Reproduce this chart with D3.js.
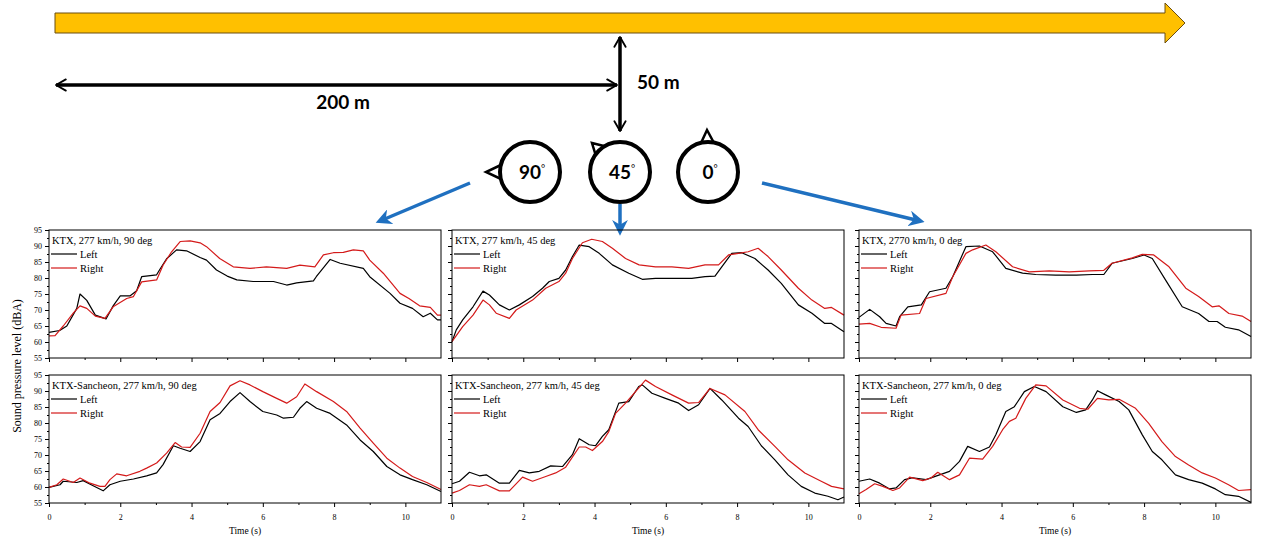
<!DOCTYPE html>
<html>
<head>
<meta charset="utf-8">
<script src="https://cdn.jsdelivr.net/npm/d3@7"></script>
<style>
  body { margin: 0; background: #fff; }
  svg { display: block; }
</style>
</head>
<body>
<svg id="chart" width="1278" height="538"></svg>
<script>
// Panel titles, in reading order (row by row)
const panelTitles = [
    'KTX, 277 km/h, 90 deg', 'KTX, 277 km/h, 45 deg', 'KTX, 2770 km/h, 0 deg',
    'KTX-Sancheon, 277 km/h, 90 deg', 'KTX-Sancheon, 277 km/h, 45 deg', 'KTX-Sancheon, 277 km/h, 0 deg'
];
const seriesNames = ['Left', 'Right'];
const yTicks = [55, 60, 65, 70, 75, 80, 85, 90, 95];
const xTicks = [0, 2, 4, 6, 8, 10];

// [time (s), level (dBA)]
const ktx90Left = [[0,63],[0.3,63.6],[0.5,65],[0.78,70.5],[0.87,75],[1.06,73],[1.3,68.4],[1.5,67.6],[1.6,67.2],[1.8,71.3],[2,74.4],[2.27,74.4],[2.46,76],[2.6,80.4],[3.02,81],[3.1,82.5],[3.3,86],[3.58,88.8],[3.86,88.5],[4.24,86.4],[4.42,85.6],[4.7,82.5],[5,80.6],[5.27,79.4],[5.73,78.9],[6.3,78.9],[6.67,77.8],[6.95,78.5],[7.42,79.1],[7.5,80.4],[7.89,85.8],[8.17,84.6],[8.82,83],[9,80.4],[9.57,75.2],[9.85,72.1],[10.2,70.5],[10.5,67.9],[10.7,69],[10.9,66.9],[11,66.9]];
const ktx90Right = [[0,61.9],[0.17,62],[0.4,65],[0.68,69],[0.87,71.3],[1.06,70.5],[1.3,68.1],[1.57,67.4],[1.8,71],[2.18,73.6],[2.37,74.2],[2.6,78.8],[3.02,79.4],[3.2,84],[3.44,88.2],[3.68,91.4],[3.96,91.6],[4.24,91],[4.42,89.8],[4.79,86.1],[5.17,83.5],[5.64,83],[6.1,83.5],[6.67,83],[7.04,84],[7.46,83.5],[7.7,87.2],[7.98,87.9],[8.26,88],[8.54,88.8],[8.82,88.5],[9,85.6],[9.38,81.5],[9.85,75.2],[10.1,73.6],[10.4,71.3],[10.7,70.8],[10.9,68.4],[11,68.4]];

const ktx45Left = [[0,60.1],[0.12,63.8],[0.3,66.9],[0.59,71],[0.87,75.9],[1.05,74.7],[1.33,71.6],[1.61,70],[1.89,71.6],[2.26,74.2],[2.54,76.8],[2.73,78.9],[3,79.9],[3.19,82.5],[3.38,86.7],[3.57,90.3],[3.85,89.8],[4.13,87.7],[4.5,84.1],[4.96,81.5],[5.34,79.6],[5.71,79.9],[6.17,79.9],[6.73,79.9],[7.1,80.4],[7.38,80.6],[7.57,83.5],[7.85,87.7],[8.13,87.9],[8.5,86.1],[8.87,82.5],[9.24,78.3],[9.72,71.6],[10.1,69],[10.46,65.8],[10.65,65.8],[11,63.2]];
const ktx45Right = [[0,60.1],[0.3,64.8],[0.59,68.4],[0.87,73.1],[1.05,71.6],[1.24,69],[1.61,67.4],[1.8,70],[2.26,73.1],[2.63,76.8],[3,78.9],[3.19,81.5],[3.38,86.1],[3.66,91],[3.92,92.1],[4.22,91.4],[4.5,89.3],[4.87,86.1],[5.25,84.1],[5.71,83.5],[6.17,83.5],[6.64,83],[7.1,84.1],[7.48,84.1],[7.76,87.2],[8.04,87.7],[8.31,88.2],[8.59,89.3],[8.87,86.7],[9.24,82.5],[9.72,76.8],[10.1,73.1],[10.46,70.5],[10.65,70.8],[11,68.4]];

const ktx0Left = [[0,67.7],[0.3,70.2],[0.58,67.9],[0.76,65.8],[1.04,65],[1.14,67.9],[1.37,71],[1.75,71.6],[1.98,75.7],[2.44,76.8],[2.63,80.4],[3,89.8],[3.38,90],[3.75,88.2],[4.12,83],[4.59,81.5],[4.96,81.1],[5.52,80.9],[6.1,80.9],[6.55,81.1],[6.87,81.1],[7.1,84.6],[7.67,86.1],[8,87.2],[8.23,86.1],[8.6,79.4],[9.07,71],[9.53,68.9],[9.82,66.4],[10.05,66.4],[10.28,64.6],[10.65,63.8],[11,61.7]];
const ktx0Right = [[0,65.6],[0.3,65.8],[0.62,64.6],[1.04,64.3],[1.18,68.4],[1.7,68.9],[1.88,73.6],[2.44,75.2],[2.63,80.4],[3,87.7],[3.19,88.8],[3.56,90.3],[3.84,88.2],[4.31,83.5],[4.78,81.9],[5.34,82.2],[5.9,81.9],[6.46,82.2],[6.87,82.4],[7.1,84.6],[7.67,86.3],[7.95,87.4],[8.27,87.2],[8.7,83.5],[9.17,76.8],[9.53,74.2],[9.91,71],[10.1,71.3],[10.38,68.9],[10.75,68.1],[11,66.4]];

const sancheon90Left = [[0,59.9],[0.31,60.7],[0.4,61.8],[0.78,61.4],[0.96,62],[1.24,60.4],[1.52,58.8],[1.71,60.7],[2,61.8],[2.37,62.5],[2.74,63.5],[3.02,64.4],[3.2,67],[3.49,72.9],[3.68,72.1],[3.96,71.1],[4.24,74.2],[4.52,81],[4.8,83],[5.08,86.7],[5.36,89.5],[5.64,86.7],[6,83.6],[6.39,82.5],[6.58,81.5],[6.86,81.8],[7.04,84.6],[7.23,86.7],[7.51,84.6],[7.89,83],[8.35,79.4],[8.73,74.7],[9.1,71.1],[9.48,66.4],[9.85,63.8],[10.2,62.3],[10.6,60.7],[11,58.6]];
const sancheon90Right = [[0,59.9],[0.22,60.7],[0.4,62.5],[0.68,61.4],[0.87,62.8],[1.15,61.2],[1.43,60.2],[1.57,60.2],[1.71,62.3],[1.9,64.1],[2.18,63.5],[2.55,64.9],[2.74,65.9],[3.02,67.5],[3.3,70.6],[3.54,73.9],[3.72,72.5],[3.96,72.4],[4.24,76.8],[4.52,83.6],[4.8,86.4],[5.08,91.6],[5.36,93.2],[5.64,91.9],[6,89.8],[6.39,87.7],[6.67,86.2],[6.95,88.2],[7.18,92.2],[7.51,89.8],[7.98,86.7],[8.35,83.6],[8.73,78.4],[9.1,73.7],[9.48,69],[9.85,65.9],[10.2,63.3],[10.6,61.4],[11,59.2]];

const sancheon45Left = [[0,61],[0.21,61.8],[0.49,64.6],[0.77,63.5],[0.96,63.8],[1.33,61.2],[1.61,61.2],[1.89,65.2],[2.17,64.4],[2.45,64.9],[2.77,66.6],[3.1,66.4],[3.38,70.1],[3.57,75.1],[3.85,73.2],[4.03,72.9],[4.22,75.8],[4.4,77.9],[4.68,86.2],[4.96,86.7],[5.24,91.4],[5.34,91.9],[5.61,89.3],[5.99,87.7],[6.36,86.2],[6.64,83.9],[6.92,85.7],[7.24,90.8],[7.57,87.2],[8.04,81.5],[8.31,78.9],[8.68,72.9],[9.06,68.5],[9.43,63.8],[9.8,60.2],[10.18,58.1],[10.55,57.1],[10.83,56],[11,56.9]];
const sancheon45Right = [[0,58.1],[0.21,58.9],[0.49,60.7],[0.77,60.2],[0.96,60.7],[1.33,58.8],[1.61,58.8],[1.98,63.1],[2.26,61.8],[2.63,63.3],[2.91,64.4],[3.19,66.2],[3.57,72.5],[3.75,72.5],[3.94,71.4],[4.22,74.2],[4.4,77.3],[4.59,83],[4.87,86.2],[5.15,89.8],[5.43,93.4],[5.71,91.4],[6.17,88.8],[6.64,86.2],[6.92,86.4],[7.24,90.8],[7.66,88.8],[8.22,83.6],[8.59,77.9],[9.06,72.7],[9.43,68.5],[9.9,64.4],[10.36,61.8],[10.65,60.2],[11,59.4]];

const sancheon0Left = [[0,61.8],[0.3,62.5],[0.58,61.2],[0.86,59.4],[1.04,59.7],[1.28,62.3],[1.51,62.9],[1.88,62.3],[2.26,63.8],[2.54,64.9],[2.82,68],[3.05,72.7],[3.38,71.1],[3.66,72.5],[3.84,76.3],[4.12,83.6],[4.36,85.1],[4.64,89.8],[4.92,91.4],[5.25,89.8],[5.72,85.1],[6.1,83.3],[6.36,84.1],[6.55,87.2],[6.69,90.1],[6.92,88.8],[7.3,86.7],[7.57,84.1],[7.95,76.3],[8.23,71.1],[8.5,68.5],[8.88,63.8],[9.25,62.3],[9.63,61.2],[10,59.4],[10.28,57.6],[10.65,57.1],[11,55.2]];
const sancheon0Right = [[0,57.9],[0.2,59.2],[0.44,61],[0.67,60.2],[0.95,58.9],[1.14,59.7],[1.42,63.1],[1.79,62],[2.02,62.8],[2.21,64.6],[2.54,62.3],[2.82,63.8],[3.1,69],[3.47,68.7],[3.75,72.7],[4.03,77.9],[4.22,80.5],[4.4,81.5],[4.68,87.7],[4.96,91.9],[5.25,91.6],[5.72,87.2],[6.19,84.6],[6.42,84.3],[6.69,87.7],[7.01,87.2],[7.3,87.4],[7.76,84.6],[8.13,79.9],[8.5,74.2],[8.88,69.5],[9.25,66.9],[9.63,64.4],[10,62.8],[10.37,60.7],[10.65,58.9],[11,59.2]];

const panelSeries = [
    [ktx90Left, ktx90Right], [ktx45Left, ktx45Right], [ktx0Left, ktx0Right],
    [sancheon90Left, sancheon90Right], [sancheon45Left, sancheon45Right], [sancheon0Left, sancheon0Right]
];
const seriesColors = ['#000000', '#d41a1a'];

const svg = d3.select('#chart');

// ---------- schematic at the top ----------
const blue = '#1f70c0';
const defs = svg.append('defs');
defs.append('marker')
    .attr('id', 'chev').attr('viewBox', '0 0 10 10')
    .attr('refX', 8).attr('refY', 5)
    .attr('markerWidth', 4).attr('markerHeight', 4)
    .attr('markerUnits', 'strokeWidth')
    .attr('orient', 'auto-start-reverse')
    .append('path').attr('d', 'M1,1 L8,5 L1,9')
    .attr('fill', 'none').attr('stroke', '#000').attr('stroke-width', 1.3)
    .attr('stroke-linecap', 'round').attr('stroke-linejoin', 'round');
defs.append('marker')
    .attr('id', 'bluehead').attr('viewBox', '0 0 10 10')
    .attr('refX', 7).attr('refY', 5)
    .attr('markerWidth', 4.5).attr('markerHeight', 4.5)
    .attr('markerUnits', 'strokeWidth')
    .attr('orient', 'auto')
    .append('path').attr('d', 'M0,0 L10,5 L0,10 L3,5 Z').attr('fill', blue);

// train direction arrow
svg.append('path')
    .attr('d', 'M55,13 L1165,13 L1165,3 L1185,23 L1165,43 L1165,33 L55,33 Z')
    .attr('fill', '#ffc000').attr('stroke', '#6b4e10').attr('stroke-width', 1);

// distance arrows
svg.append('line').attr('x1', 56).attr('y1', 85).attr('x2', 617).attr('y2', 85)
    .attr('stroke', '#000').attr('stroke-width', 3.5)
    .attr('marker-start', 'url(#chev)').attr('marker-end', 'url(#chev)');
svg.append('line').attr('x1', 620).attr('y1', 37).attr('x2', 620).attr('y2', 131)
    .attr('stroke', '#000').attr('stroke-width', 3.5)
    .attr('marker-start', 'url(#chev)').attr('marker-end', 'url(#chev)');

const labelFont = 'Lato, "Open Sans", sans-serif';
svg.append('text').attr('x', 343).attr('y', 109).attr('text-anchor', 'middle')
    .style('font', `bold 19px ${labelFont}`).text('200 m');
svg.append('text').attr('x', 637).attr('y', 89)
    .style('font', `bold 19px ${labelFont}`).text('50 m');

// head orientation circles
const heads = [
    { cx: 530, label: '90', ear: 'M503,164 L486,172 L503,180' },
    { cx: 620, label: '45', ear: 'M592,143 L604,146 L596,156' },
    { cx: 708, label: '0', ear: 'M701,143 L707,130 L714,143' }
];
heads.forEach((h) => {
    svg.append('path').attr('d', h.ear + ' Z').attr('fill', '#fff')
        .attr('stroke', '#000').attr('stroke-width', 2.5).attr('stroke-linejoin', 'miter');
    svg.append('circle').attr('cx', h.cx).attr('cy', 172).attr('r', 30)
        .attr('fill', '#fff').attr('stroke', '#000').attr('stroke-width', 4);
    const t = svg.append('text').attr('x', h.cx + 2).attr('y', 179).attr('text-anchor', 'middle')
        .style('font', `bold 19px ${labelFont}`);
    t.append('tspan').text(h.label);
    t.append('tspan').attr('dy', -7).style('font-size', '10px').style('font-weight', 'normal').text('°');
});

// blue pointer arrows
[[470, 183, 380, 221], [620, 204, 620, 231], [762, 183, 920, 221]].forEach(([x1, y1, x2, y2]) => {
    svg.append('line').attr('x1', x1).attr('y1', y1).attr('x2', x2).attr('y2', y2)
        .attr('stroke', blue).attr('stroke-width', 3.5).attr('marker-end', 'url(#bluehead)');
});

// ---------- the six panels ----------
const colX = [49, 452, 859];
const rowY = [230, 375];
const panelW = 392;
const panelH = 128;
const serif = '"Liberation Serif", "DejaVu Serif", serif';

const xScale = d3.scaleLinear().domain([0, 11]).range([0, panelW]);
const yScale = d3.scaleLinear().domain([55, 95]).range([panelH, 0]);
const line = d3.line().x((d) => xScale(d[0])).y((d) => yScale(d[1]));

panelSeries.forEach((series, i) => {
    const col = i % 3;
    const row = Math.floor(i / 3);
    const g = svg.append('g').attr('transform', `translate(${colX[col]},${rowY[row]})`);

    series.forEach((data, s) => {
        g.append('path').datum(data)
            .attr('d', line)
            .attr('fill', 'none')
            .attr('stroke', seriesColors[s])
            .attr('stroke-width', 1.2)
            .attr('stroke-linejoin', 'round');
    });

    g.append('rect').attr('width', panelW).attr('height', panelH)
        .attr('fill', 'none').attr('stroke', '#000').attr('stroke-width', 1);

    // y axis, major and minor ticks
    g.append('g')
        .call(d3.axisLeft(yScale).tickValues(yTicks).tickSize(4).tickPadding(3)
            .tickFormat(col === 0 ? d3.format('d') : () => ''));
    g.append('g')
        .call(d3.axisLeft(yScale).tickValues(yTicks.slice(0, -1).map((v) => v + 2.5))
            .tickSize(2).tickFormat(() => ''));

    // x axis, major and minor ticks
    g.append('g').attr('transform', `translate(0,${panelH})`)
        .call(d3.axisBottom(xScale).tickValues(xTicks).tickSize(4).tickPadding(7)
            .tickFormat(row === 1 ? d3.format('d') : () => ''));
    g.append('g').attr('transform', `translate(0,${panelH})`)
        .call(d3.axisBottom(xScale).tickValues([1, 3, 5, 7, 9]).tickSize(2).tickFormat(() => ''));

    g.selectAll('.domain').remove();
    g.selectAll('.tick line').attr('stroke', '#000');
    g.selectAll('.tick text').style('font', `8px ${serif}`).attr('fill', '#000');

    // title and legend
    g.append('text').attr('x', 3).attr('y', 14)
        .style('font', `10.5px ${serif}`).text(panelTitles[i]);
    seriesNames.forEach((name, s) => {
        const ly = 24 + s * 14;
        g.append('line').attr('x1', 2).attr('x2', 28).attr('y1', ly).attr('y2', ly)
            .attr('stroke', seriesColors[s]).attr('stroke-width', 1.2);
        g.append('text').attr('x', 31).attr('y', ly + 4)
            .style('font', `10.5px ${serif}`).text(name);
    });

    if (row === 1) {
        g.append('text').attr('x', panelW / 2).attr('y', panelH + 31).attr('text-anchor', 'middle')
            .style('font', `9.5px ${serif}`).text('Time (s)');
    }
});

svg.append('text')
    .attr('transform', 'translate(21,366) rotate(-90)')
    .attr('text-anchor', 'middle')
    .style('font', `12px ${serif}`)
    .text('Sound pressure level (dBA)');
</script>
</body>
</html>
